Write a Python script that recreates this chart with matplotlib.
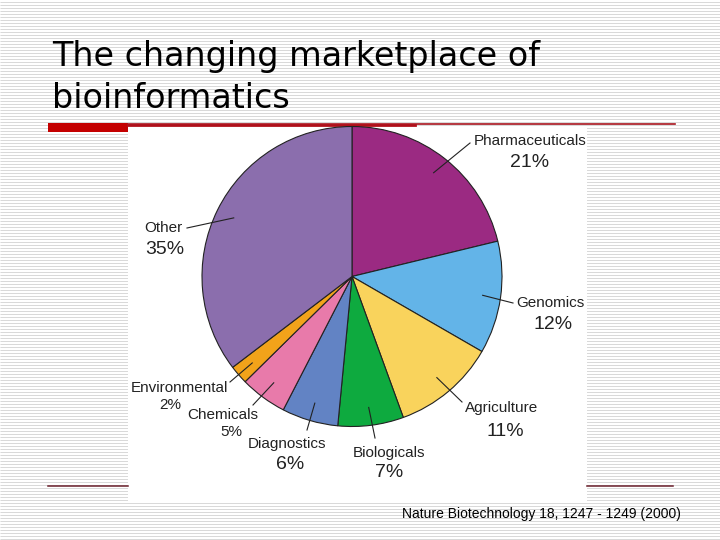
import numpy as np
import matplotlib
matplotlib.use("Agg")
from matplotlib import pyplot as plt
from matplotlib.patches import Rectangle

# data
sectors = ["Pharmaceuticals", "Genomics", "Agriculture", "Biologicals",
           "Diagnostics", "Chemicals", "Environmental", "Other"]
shares = [21, 12, 11, 7, 6, 5, 2, 35]
pct_labels = [f"{v}%" for v in shares]
colors = ["#9b2a82", "#63b4e8", "#f9d35c", "#0eaa3f",
          "#6283c4", "#e87aaa", "#f2a31a", "#8b6ead"]

title_lines = ["The changing marketplace of", "bioinformatics"]
caption = "Nature Biotechnology 18, 1247 - 1249 (2000)"

# label layout in slide pixels: name centre, percent centre, leader outer end
name_pos = [(530, 141), (550, 303), (502, 408), (389, 453),
            (287, 444), (223, 415), (179, 388), (163, 228)]
pct_pos = [(530, 163), (553, 325), (505, 432), (389, 473),
           (290, 465), (231, 432), (170, 405), (165, 250)]
leader_end = [(470, 143), (513, 303), (462, 402), (375, 438),
              (307, 430), (253, 405), (230, 382), (187, 228)]
pct_size = [14, 14, 14, 14, 14, 11, 11, 14]

W, H = 720, 540
cx, cy, R = 352, 276.5, 150

fig = plt.figure(figsize=(7.2, 5.4), dpi=100)

# slide background
bg = fig.add_axes([0, 0, 1, 1])
bg.set_xlim(0, W)
bg.set_ylim(H, 0)
bg.axis("off")
bg.hlines(np.arange(1.5, H, 3), 0, W, color="#d9d9d9", lw=0.72, zorder=1)
bg.add_patch(Rectangle((128, 126), 459, 377, facecolor="white", edgecolor="none", zorder=2))
bg.add_patch(Rectangle((48, 123), 80, 9, facecolor="#c40000", edgecolor="none", zorder=3))
bg.plot([128, 675], [124, 124], color="#a8141e", lw=1.2, zorder=3)
bg.plot([128, 415], [124.5, 124.5], color="#b0101a", lw=2.0, zorder=3)
bg.plot([48, 128], [486, 486], color="#6a1f2b", lw=1.1, zorder=3)
bg.plot([587, 673], [486, 486], color="#6a1f2b", lw=1.1, zorder=3)

bg.text(52, 66, title_lines[0], fontsize=24, family="DejaVu Sans", va="baseline", zorder=4)
bg.text(52, 108, title_lines[1], fontsize=24, family="DejaVu Sans", va="baseline", zorder=4)
bg.text(402, 514, caption, fontsize=10, family="Liberation Sans", va="center", zorder=4)

# pie
ax = fig.add_axes([(cx - R) / W, (H - cy - R) / H, 2 * R / W, 2 * R / H])
wedges, _ = ax.pie(shares, colors=colors, startangle=90, counterclock=False, radius=1,
                   wedgeprops=dict(edgecolor="#222222", linewidth=0.8))
ax.set_xlim(-1, 1)
ax.set_ylim(-1, 1)
ax.axis("off")


def to_data(p):
    return (p[0] - cx) / R, (cy - p[1]) / R


for i, w in enumerate(wedges):
    mid = np.deg2rad((w.theta1 + w.theta2) / 2)
    x0, y0 = 0.88 * np.cos(mid), 0.88 * np.sin(mid)
    x1, y1 = to_data(leader_end[i])
    ax.plot([x0, x1], [y0, y1], color="#222222", lw=0.8, clip_on=False)
    nx, ny = to_data(name_pos[i])
    ax.text(nx, ny, sectors[i], fontsize=11, family="Liberation Sans",
            ha="center", va="center", color="#222222")
    px, py = to_data(pct_pos[i])
    ax.text(px, py, pct_labels[i], fontsize=pct_size[i], family="Liberation Sans",
            ha="center", va="center", color="#222222")

plt.savefig("out.png", dpi=100)
plt.close(fig)
